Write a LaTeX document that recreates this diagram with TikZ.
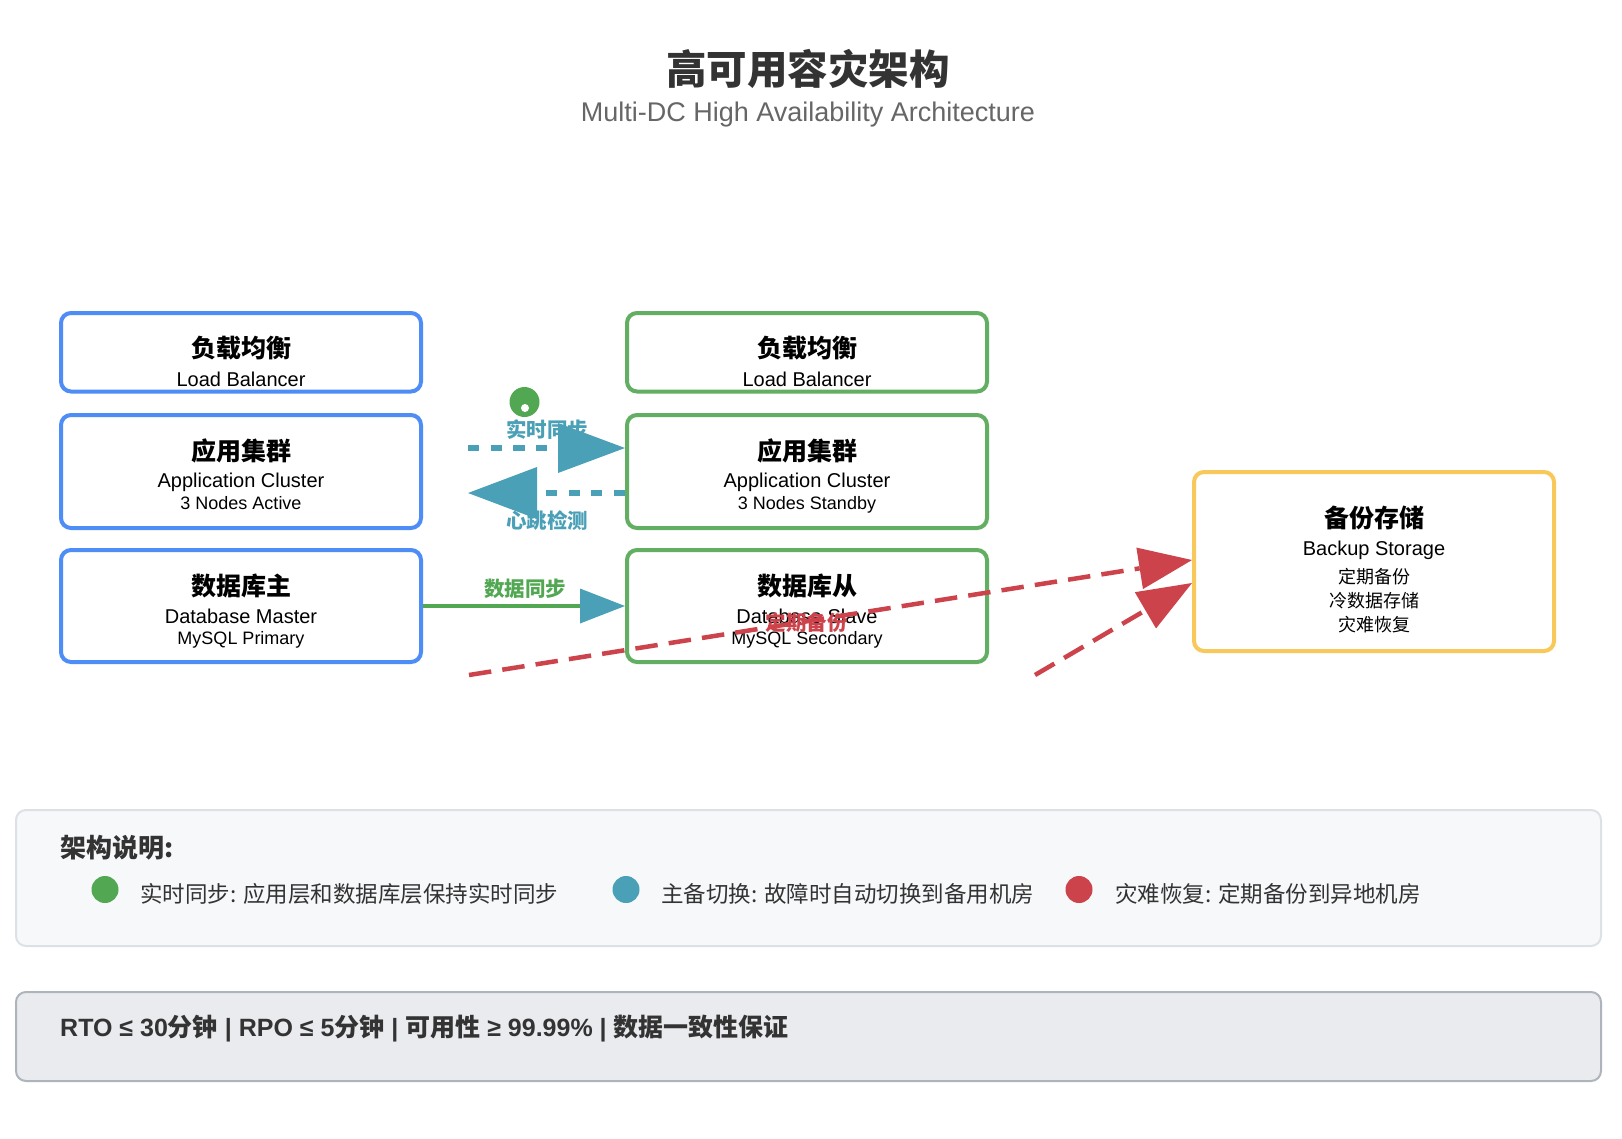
\documentclass[tikz,border=0pt]{standalone}
\usepackage{fontspec}
\setmainfont{Liberation Sans}
\newfontfamily\cjk{Noto Sans CJK SC}
\usetikzlibrary{arrows.meta}
\definecolor{blueC}{HTML}{4D8DF5}
\definecolor{greenB}{HTML}{62AE62}
\definecolor{greenL}{HTML}{52A852}
\definecolor{tealC}{HTML}{4AA0B6}
\definecolor{redC}{HTML}{CD434B}
\definecolor{yellowC}{HTML}{F8C95A}
\definecolor{legFill}{HTML}{F7F8FA}
\definecolor{legDraw}{HTML}{DDE1E6}
\definecolor{metFill}{HTML}{EAEBEF}
\definecolor{metDraw}{HTML}{AEB4BC}
\definecolor{c333}{HTML}{333333}
\definecolor{c666}{HTML}{666666}
\newcommand\fsz[1]{\fontsize{#1}{#1}\selectfont}
\newcommand\zh[1]{{\cjk #1}}
\begin{document}
\begin{tikzpicture}[x=1pt,y=-1pt,
  box/.style={draw, line width=4pt, rounded corners=10pt, minimum width=360pt, inner sep=0pt, fill=white},
  lbl/.style={inner sep=0pt, anchor=base},
  ttl/.style={lbl, font=\cjk\bfseries\fsz{25}, text=black},
  sub/.style={lbl, font=\fsz{20}, text=black},
  small/.style={lbl, font=\fsz{18}, text=black},
  smallzh/.style={lbl, font=\cjk\fsz{18}, text=black},
  tealdash/.style={draw=tealC, line width=6pt, dash pattern=on 11.3pt off 11.3pt},
  reddash/.style={draw=redC, line width=4.5pt, dash pattern=on 22.5pt off 11.2pt},
  conlbl/.style={lbl, font=\cjk\bfseries\fsz{20.5}},
  legtxt/.style={lbl, anchor=base west, font=\cjk\fsz{22.5}, text=c333},
  dot/.style={circle, inner sep=0pt, minimum size=27pt}
]
\useasboundingbox (0,0) rectangle (1622,1138);
\fill[white] (0,0) rectangle (1622,1138);

% title
\node[lbl, font=\cjk\bfseries\fsz{40.5}, text=c333] (title) at (808,84) {高可用容灾架构};
\node[lbl, font=\fsz{27}, text=c666] (subtitle) at (808,121) {Multi-DC High Availability Architecture};

% left column
\node[box, draw=blueC, minimum height=78.5pt] (lbA) at (241,352.25) {};
\node[box, draw=blueC, minimum height=113pt] (appA) at (241,471.5) {};
\node[box, draw=blueC, minimum height=112pt] (dbA) at (241,606) {};
% right column
\node[box, draw=greenB, minimum height=78.5pt] (lbB) at (807,352.25) {};
\node[box, draw=greenB, minimum height=113pt] (appB) at (807,471.5) {};
\node[box, draw=greenB, minimum height=112pt] (dbB) at (807,606) {};
% backup
\node[box, draw=yellowC, minimum height=179pt] (bk) at (1374,561.5) {};

% texts left
\node[ttl] (lbAt) at (241,357) {负载均衡};
\node[sub] (lbAs) at (241,386) {Load Balancer};
\node[ttl] (appAt) at (241,460) {应用集群};
\node[sub] (appAs) at (241,487) {Application Cluster};
\node[small] (appAn) at (241,509) {3 Nodes Active};
\node[ttl] (dbAt) at (241,595) {数据库主};
\node[sub] (dbAs) at (241,623) {Database Master};
\node[small] (dbAn) at (241,644) {MySQL Primary};
% texts right
\node[ttl] (lbBt) at (807,357) {负载均衡};
\node[sub] (lbBs) at (807,386) {Load Balancer};
\node[ttl] (appBt) at (807,460) {应用集群};
\node[sub] (appBs) at (807,487) {Application Cluster};
\node[small] (appBn) at (807,509) {3 Nodes Standby};
\node[ttl] (dbBt) at (807,595) {数据库从};
\node[sub] (dbBs) at (807,623) {Database Slave};
\node[small] (dbBn) at (807,644) {MySQL Secondary};
% backup texts
\node[ttl] (bkt) at (1374,527) {备份存储};
\node[sub] (bks) at (1374,555) {Backup Storage};
\node[smallzh] (bk1) at (1374,583) {定期备份};
\node[smallzh] (bk2) at (1374,607) {冷数据存储};
\node[smallzh] (bk3) at (1374,631) {灾难恢复};

% connector labels
\node[conlbl, text=tealC] (lsync) at (547,437) {实时同步};
\node[conlbl, text=tealC] (lhb) at (547,528) {心跳检测};
\node[conlbl, text=greenL] (ldb) at (525,596) {数据同步};
\node[conlbl, text=redC] (lbk) at (806.5,630) {定期备份};

% green marker dot
\node[circle, fill=greenL, inner sep=0pt, minimum size=30pt] (gdot) at (524.5,402) {};
\node[circle, fill=white, inner sep=0pt, minimum size=8pt] (gdotc) at (525,408) {};

% connectors
\coordinate (syncS) at (468,448);
\coordinate (hbE) at (468,493);
\draw[tealdash, -{Triangle[length=67pt,width=50pt,line width=0pt]}] (syncS) -- (appB.west |- syncS);
\draw[tealdash, -{Triangle[length=69pt,width=52pt,line width=0pt]}] (appB.west |- hbE) -- (hbE);
\draw[draw=greenL, line width=4pt, -{Triangle[length=45pt,width=35pt,line width=0pt,color=tealC]}] (dbA.east) -- (dbB.west);
\coordinate (r1) at (469,675);
\coordinate (r2) at (1035,675);
\draw[reddash, -{Triangle[length=53pt,width=42pt,line width=0pt]}] (r1) -- ([yshift=1.5pt]bk.west);
\draw[reddash, -{Triangle[length=54pt,width=42pt,line width=0pt]}] (r2) -- ([yshift=-21.5pt]bk.west);

% legend
\node[draw=legDraw, fill=legFill, line width=2pt, rounded corners=10pt, minimum width=1585pt, minimum height=136pt, inner sep=0pt] (legend) at (808.5,878) {};
\node[lbl, anchor=base west, font=\cjk\bfseries\fsz{26}, text=c333] (legT) at (60,857) {架构说明:};
\node[dot, fill=greenL] (lg1) at (105,889.5) {};
\node[legtxt] (lg1t) at (140,902) {实时同步: 应用层和数据库层保持实时同步};
\node[dot, fill=tealC] (lg2) at (626,889.5) {};
\node[legtxt] (lg2t) at (661,902) {主备切换: 故障时自动切换到备用机房};
\node[dot, fill=redC] (lg3) at (1079,889.5) {};
\node[legtxt] (lg3t) at (1115,902) {灾难恢复: 定期备份到异地机房};

% metrics
\node[draw=metDraw, fill=metFill, line width=2pt, rounded corners=10pt, minimum width=1585pt, minimum height=89pt, inner sep=0pt] (metrics) at (808.5,1036.5) {};
\node[lbl, anchor=base west, font=\bfseries\fsz{25}, text=c333] (metT) at (60,1036) {RTO ≤ 30\zh{分钟} | RPO ≤ 5\zh{分钟} | \zh{可用性} ≥ 99.99\% | \zh{数据一致性保证}};
\end{tikzpicture}
\end{document}
